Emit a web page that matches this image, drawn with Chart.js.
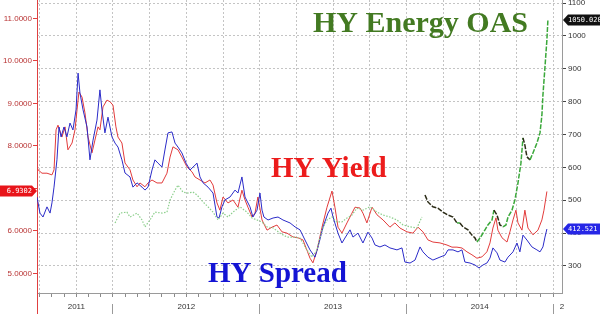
<!DOCTYPE html>
<html>
<head>
<meta charset="utf-8">
<script src="https://cdn.jsdelivr.net/npm/chart.js@4.4.1/dist/chart.umd.min.js"></script>
<style>
  html, body { margin: 0; padding: 0; background: #fff; }
</style>
</head>
<body>
<canvas id="chart" width="600" height="314"></canvas>
<script>
// dates are decimal years
var yieldDates = [2011.475, 2011.489, 2011.516, 2011.550, 2011.584, 2011.598, 2011.612, 2011.625, 2011.652, 2011.673,
  2011.693, 2011.721, 2011.741, 2011.755, 2011.768, 2011.789, 2011.809, 2011.830, 2011.857, 2011.877,
  2011.898, 2011.911, 2011.932, 2011.959, 2011.980, 2012.000, 2012.020, 2012.034, 2012.061, 2012.082,
  2012.116, 2012.136, 2012.164, 2012.184, 2012.218, 2012.239, 2012.266, 2012.300, 2012.334, 2012.368,
  2012.389, 2012.409, 2012.443, 2012.470, 2012.504, 2012.539, 2012.559, 2012.593, 2012.627, 2012.661,
  2012.682, 2012.709, 2012.729, 2012.750, 2012.784, 2012.818, 2012.852, 2012.879, 2012.900, 2012.920,
  2012.948, 2012.968, 2012.988, 2013.016, 2013.050, 2013.084, 2013.118, 2013.152, 2013.186, 2013.227,
  2013.261, 2013.295, 2013.322, 2013.343, 2013.363, 2013.391, 2013.425, 2013.459, 2013.493, 2013.513,
  2013.534, 2013.561, 2013.595, 2013.629, 2013.650, 2013.684, 2013.704, 2013.731, 2013.766, 2013.800,
  2013.841, 2013.888, 2013.922, 2013.956, 2014.004, 2014.045, 2014.079, 2014.113, 2014.147, 2014.181,
  2014.229, 2014.277, 2014.311, 2014.345, 2014.379, 2014.413, 2014.447, 2014.481, 2014.515, 2014.549,
  2014.570, 2014.590, 2014.611, 2014.624, 2014.652, 2014.686, 2014.706, 2014.727, 2014.747, 2014.761,
  2014.788, 2014.808, 2014.829, 2014.863, 2014.897, 2014.924, 2014.938, 2014.958];
var yieldValues = [7.60, 7.44, 7.36, 7.36, 7.32, 7.44, 8.38, 8.49, 8.21, 8.45,
  7.91, 8.07, 8.38, 8.85, 9.27, 9.15, 8.78, 8.21, 7.84, 8.14,
  8.45, 8.38, 8.92, 9.08, 9.04, 8.96, 8.45, 8.21, 8.07, 7.60,
  7.44, 7.20, 7.04, 7.13, 7.04, 7.13, 7.20, 7.13, 7.13, 7.36,
  7.74, 7.98, 7.91, 7.74, 7.51, 7.39, 7.27, 7.20, 7.13, 7.20,
  7.08, 6.66, 6.49, 6.80, 6.66, 6.73, 6.56, 6.96, 6.73, 6.56,
  6.33, 6.42, 6.80, 6.26, 6.02, 6.09, 6.14, 5.98, 5.95, 5.86,
  5.84, 5.79, 5.55, 5.36, 5.25, 5.55, 6.09, 6.56, 6.94, 6.56,
  6.09, 5.95, 6.19, 6.42, 6.56, 6.54, 6.42, 6.19, 6.56, 6.38,
  6.26, 6.09, 6.19, 6.07, 5.98, 5.95, 6.09, 5.98, 5.79, 5.74,
  5.72, 5.67, 5.62, 5.62, 5.60, 5.51, 5.44, 5.36, 5.39, 5.51,
  5.72, 6.07, 6.31, 6.02, 5.84, 5.74, 5.98, 6.26, 6.49, 6.19,
  6.02, 6.49, 6.07, 5.91, 6.02, 6.26, 6.49, 6.9302];

var spreadDates = [2011.482, 2011.502, 2011.523, 2011.550, 2011.571, 2011.584, 2011.598, 2011.618, 2011.632, 2011.646,
  2011.666, 2011.686, 2011.707, 2011.727, 2011.748, 2011.762, 2011.775, 2011.796, 2011.823, 2011.843,
  2011.864, 2011.891, 2011.911, 2011.925, 2011.945, 2011.966, 2011.993, 2012.014, 2012.034, 2012.061,
  2012.082, 2012.116, 2012.136, 2012.164, 2012.198, 2012.218, 2012.239, 2012.266, 2012.286, 2012.307,
  2012.334, 2012.354, 2012.375, 2012.402, 2012.423, 2012.443, 2012.470, 2012.498, 2012.525, 2012.573,
  2012.593, 2012.614, 2012.648, 2012.682, 2012.709, 2012.723, 2012.743, 2012.763, 2012.798, 2012.832,
  2012.852, 2012.879, 2012.900, 2012.934, 2012.954, 2012.982, 2013.002, 2013.016, 2013.029, 2013.057,
  2013.091, 2013.125, 2013.159, 2013.207, 2013.241, 2013.275, 2013.309, 2013.343, 2013.377, 2013.398,
  2013.432, 2013.466, 2013.486, 2013.500, 2013.534, 2013.561, 2013.581, 2013.616, 2013.636, 2013.670,
  2013.704, 2013.738, 2013.766, 2013.786, 2013.820, 2013.854, 2013.888, 2013.936, 2013.970, 2013.990,
  2014.025, 2014.059, 2014.093, 2014.113, 2014.147, 2014.181, 2014.229, 2014.263, 2014.284, 2014.318,
  2014.352, 2014.379, 2014.399, 2014.434, 2014.468, 2014.495, 2014.522, 2014.549, 2014.570, 2014.590,
  2014.618, 2014.638, 2014.672, 2014.693, 2014.727, 2014.754, 2014.774, 2014.795, 2014.822, 2014.856,
  2014.890, 2014.911, 2014.931, 2014.945, 2014.958];
var spreadValues = [510, 461, 449, 480, 461, 492, 540, 623, 723, 693,
  723, 693, 735, 714, 775, 887, 826, 775, 723, 623,
  683, 744, 836, 775, 705, 753, 693, 674, 662, 623,
  583, 571, 540, 553, 540, 531, 540, 592, 623, 613,
  601, 653, 705, 708, 674, 662, 644, 613, 592, 613,
  571, 553, 540, 522, 449, 446, 480, 501, 510, 531,
  522, 571, 510, 480, 449, 470, 522, 470, 449, 440,
  446, 449, 440, 431, 419, 410, 379, 349, 327, 358,
  419, 461, 476, 449, 400, 370, 385, 410, 388, 400,
  370, 403, 385, 364, 358, 364, 355, 349, 355, 312,
  309, 318, 358, 343, 327, 318, 327, 333, 349, 349,
  343, 349, 312, 309, 303, 294, 303, 309, 324, 355,
  340, 318, 312, 327, 343, 370, 343, 394, 379, 358,
  349, 343, 358, 388, 412.521];

// HY Energy OAS, older history (light dotted) and the 2014 run
var energyEarlyDates = [2012.014, 2012.048, 2012.095, 2012.116, 2012.164, 2012.198, 2012.218, 2012.252, 2012.286, 2012.334,
  2012.368, 2012.389, 2012.423, 2012.443, 2012.477, 2012.511, 2012.545, 2012.573, 2012.614, 2012.648,
  2012.682, 2012.716, 2012.750, 2012.784, 2012.818, 2012.866, 2012.913, 2012.948, 2012.982, 2013.016,
  2013.050, 2013.091, 2013.138, 2013.186, 2013.227, 2013.275, 2013.322, 2013.357, 2013.391, 2013.425,
  2013.459, 2013.493, 2013.527, 2013.561, 2013.595, 2013.629, 2013.663, 2013.704, 2013.752, 2013.800,
  2013.841, 2013.888, 2013.936, 2013.977, 2014.025, 2014.072, 2014.106];
var energyEarlyValues = [431, 461, 464, 449, 461, 440, 419, 440, 464, 461,
  464, 501, 531, 546, 525, 522, 525, 516, 495, 480,
  464, 440, 461, 449, 464, 480, 464, 446, 440, 434,
  419, 416, 400, 388, 388, 385, 349, 327, 349, 410,
  440, 449, 434, 434, 446, 455, 476, 470, 480, 464,
  455, 449, 440, 425, 419, 416, 449];
var energyDates = [2014.127, 2014.147, 2014.181, 2014.215, 2014.250, 2014.284, 2014.318, 2014.345, 2014.365, 2014.386,
  2014.420, 2014.447, 2014.468, 2014.481, 2014.502, 2014.536, 2014.556, 2014.584, 2014.597, 2014.618,
  2014.638, 2014.659, 2014.679, 2014.693, 2014.720, 2014.740, 2014.761, 2014.781, 2014.795, 2014.808,
  2014.822, 2014.843, 2014.863, 2014.890, 2014.911, 2014.924, 2014.931, 2014.945, 2014.958, 2014.965];
var energyValues = [516, 495, 480, 476, 464, 455, 449, 431, 431, 419,
  410, 394, 385, 373, 385, 410, 425, 440, 470, 455,
  425, 419, 425, 449, 470, 501, 553, 613, 690, 668,
  632, 623, 644, 674, 705, 759, 820, 906, 988, 1050.02];

// axis ticks
var yieldTicks = [5, 6, 7, 8, 9, 10, 11];
var oasTicks = [300, 400, 500, 600, 700, 800, 900, 1000, 1100];
var yearLabels = ['2011', '2012', '2013', '2014', '2'];
var yearLabelAt = [2011.75, 2012.5, 2013.5, 2014.5, 2015.061];
var yearStarts = [2012, 2013, 2014, 2015];

var xMin = 2011.482, xMax = 2015.061;
var yieldMin = 4.541, yieldMax = 11.435;
var oasMin = 217.8, oasMax = 1109.5;

function pts(d, v) { return d.map(function(x, i) { return {x: x, y: v[i]}; }); }
function align(p) { return Math.round(p - 0.5) + 0.5; }

var gridColor = '#c4c4c4';
var upColor = '#3aa83a', downColor = '#2b2b16';

var overlay = {
  id: 'overlay',
  afterDraw: function(chart) {
    var c = chart.ctx, x = chart.scales.x, yL = chart.scales.yL, yR = chart.scales.yR, a = chart.chartArea;
    c.save();
    // year separators under the axis
    c.strokeStyle = '#9a9a9a';
    c.lineWidth = 1;
    yearStarts.forEach(function(yr) {
      var px = align(x.getPixelForValue(yr));
      c.beginPath(); c.moveTo(px, a.bottom + 11); c.lineTo(px, chart.height); c.stroke();
    });
    // left axis runs down to the bottom
    c.strokeStyle = '#e04040';
    var lx = align(a.left);
    c.beginPath(); c.moveTo(lx, a.bottom); c.lineTo(lx, chart.height); c.stroke();

    // last value tags
    function tag(y, text, color, side) {
      var h = 11, ax = side === 'left' ? a.left : a.right + 1;
      y = Math.round(y);
      c.fillStyle = color;
      c.beginPath();
      if (side === 'left') {
        c.moveTo(0, y - h / 2); c.lineTo(ax - 5, y - h / 2); c.lineTo(ax, y); c.lineTo(ax - 5, y + h / 2); c.lineTo(0, y + h / 2);
      } else {
        c.moveTo(chart.width, y - h / 2); c.lineTo(ax + 5, y - h / 2); c.lineTo(ax, y); c.lineTo(ax + 5, y + h / 2); c.lineTo(chart.width, y + h / 2);
      }
      c.closePath();
      c.fill();
      c.fillStyle = '#fff';
      c.font = '7px "DejaVu Sans Mono"';
      c.textBaseline = 'middle';
      c.textAlign = side === 'left' ? 'right' : 'left';
      c.fillText(text, side === 'left' ? ax - 5 : ax + 5, y + 0.5);
    }
    var ly = yieldValues[yieldValues.length - 1];
    var ls = spreadValues[spreadValues.length - 1];
    var le = energyValues[energyValues.length - 1];
    tag(yL.getPixelForValue(ly), ly.toFixed(4), '#e8141a', 'left');
    tag(yR.getPixelForValue(ls), ls.toFixed(3), '#2626e6', 'right');
    tag(yR.getPixelForValue(le), le.toFixed(3), '#111', 'right');

    // series captions
    c.textAlign = 'left';
    c.textBaseline = 'alphabetic';
    c.font = 'bold 30px "Liberation Serif"';
    c.fillStyle = '#437a22';
    c.fillText('HY Energy OAS', 313, 32);
    c.font = 'bold 29px "Liberation Serif"';
    c.fillStyle = '#ec1c1c';
    c.fillText('HY Yield', 271, 177);
    c.fillStyle = '#1414d4';
    c.fillText('HY Spread', 208, 282);
    c.restore();
  }
};

var tickFont = {family: 'Liberation Sans', size: 8};

new Chart(document.getElementById('chart'), {
  type: 'line',
  data: {
    datasets: [
      {label: 'HY Yield', yAxisID: 'yL', data: pts(yieldDates, yieldValues),
        borderColor: '#e23b3b', borderWidth: 1, order: 4},
      {label: 'HY Spread', yAxisID: 'yR', data: pts(spreadDates, spreadValues),
        borderColor: '#2b2bc8', borderWidth: 1, order: 3},
      {label: 'HY Energy OAS (history)', yAxisID: 'yR', data: pts(energyEarlyDates, energyEarlyValues),
        borderColor: '#8ccf8c', borderWidth: 1.2, borderDash: [1.5, 1.5], order: 2},
      {label: 'HY Energy OAS', yAxisID: 'yR', data: pts(energyDates, energyValues),
        borderColor: upColor, borderWidth: 1.5, borderDash: [5, 1.5], order: 1,
        segment: {
          borderColor: function(ctx) { return ctx.p1.parsed.y < ctx.p0.parsed.y ? downColor : upColor; }
        }}
    ]
  },
  options: {
    responsive: false,
    animation: false,
    layout: {padding: 0},
    elements: {point: {radius: 0}, line: {tension: 0}},
    plugins: {legend: {display: false}, tooltip: {enabled: false}},
    scales: {
      x: {
        type: 'linear', position: 'bottom', min: xMin, max: xMax,
        afterBuildTicks: function(s) {
          var t = [];
          for (var m = 6; m <= 48; m++) t.push({value: 2011 + m / 12});
          t.push({value: xMax});
          s.ticks = t;
        },
        afterFit: function(s) { s.height = 21; s.paddingLeft = 0; s.paddingRight = 0; },
        grid: {
          color: function(ctx) {
            if (!ctx.tick) return 'transparent';
            var m = Math.round((ctx.tick.value - 2011) * 12);
            return (m % 3 === 0 && ctx.tick.value < xMax - 0.01) ? gridColor : 'transparent';
          },
          tickColor: function(ctx) {
            return ctx.tick && ctx.tick.value > xMax - 0.01 ? 'transparent' : '#8a8a8a';
          },
          tickLength: 4
        },
        border: {color: '#9a9a9a', dash: [2, 2]},
        ticks: {
          autoSkip: false, maxRotation: 0, padding: 5, color: '#333', font: tickFont,
          callback: function(v) {
            for (var i = 0; i < yearLabelAt.length; i++) {
              if (Math.abs(v - yearLabelAt[i]) < 0.001) return yearLabels[i];
            }
            return '';
          }
        }
      },
      yL: {
        type: 'linear', position: 'left', min: yieldMin, max: yieldMax,
        afterBuildTicks: function(s) { s.ticks = yieldTicks.map(function(v) { return {value: v}; }); },
        afterFit: function(s) { s.width = 37; s.paddingTop = 0; s.paddingBottom = 0; },
        grid: {drawOnChartArea: false, tickColor: '#e04040', tickLength: 4},
        border: {color: '#e04040'},
        ticks: {padding: 1, color: '#b83232', font: tickFont,
          callback: function(v) { return v.toFixed(4); }}
      },
      yR: {
        type: 'linear', position: 'right', min: oasMin, max: oasMax,
        afterBuildTicks: function(s) { s.ticks = oasTicks.map(function(v) { return {value: v}; }); },
        afterFit: function(s) { s.width = 38; s.paddingTop = 0; s.paddingBottom = 0; },
        grid: {drawOnChartArea: true, color: gridColor, tickColor: '#444', tickLength: 4},
        border: {color: '#9a9a9a', dash: [2, 2]},
        ticks: {padding: 2, color: '#333', font: tickFont,
          callback: function(v) { return String(v); }}
      }
    }
  },
  plugins: [overlay]
});
</script>
</body>
</html>
